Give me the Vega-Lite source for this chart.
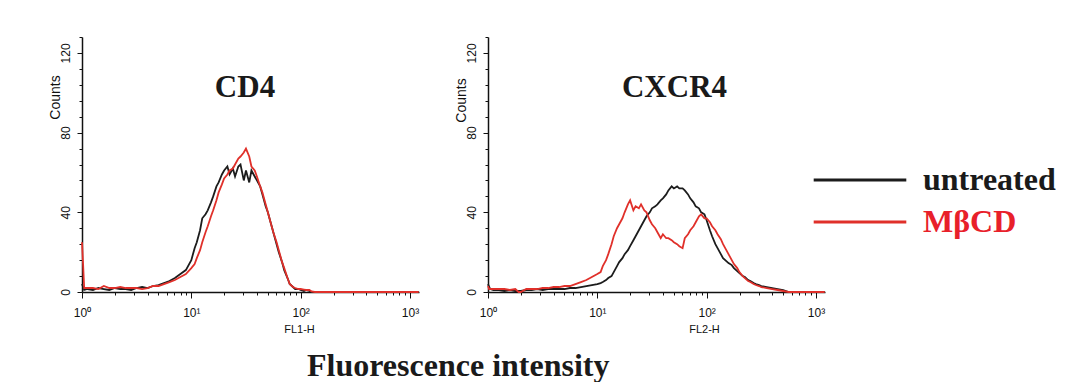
{
  "$schema": "https://vega.github.io/schema/vega-lite/v6.json",
  "background": "white",
  "padding": {"left": 48, "top": 36, "right": 0, "bottom": 0},
  "bounds": "flush",
  "spacing": 69,
  "config": {"view": {"stroke": null}, "font": "Liberation Sans"},
  "title": {"text": "Fluorescence intensity", "orient": "bottom", "font": "Liberation Serif", "fontSize": 32, "fontWeight": "bold", "color": "#1a1a1a", "anchor": "start", "frame": "group", "dx": 225, "offset": 17},
  "resolve": {"scale": {"color": "shared"}, "legend": {"color": "shared"}},
  "datasets": {
    "hist": [
      {"panel":"CD4","series":"untreated","fl":1,"count":4},{"panel":"CD4","series":"untreated","fl":1.047,"count":1},{"panel":"CD4","series":"untreated","fl":1.122,"count":1.5},{"panel":"CD4","series":"untreated","fl":1.259,"count":1},{"panel":"CD4","series":"untreated","fl":1.413,"count":2},{"panel":"CD4","series":"untreated","fl":1.585,"count":1.5},{"panel":"CD4","series":"untreated","fl":1.778,"count":1},{"panel":"CD4","series":"untreated","fl":1.995,"count":2},{"panel":"CD4","series":"untreated","fl":2.239,"count":1.5},{"panel":"CD4","series":"untreated","fl":2.512,"count":1.5},{"panel":"CD4","series":"untreated","fl":2.818,"count":1},{"panel":"CD4","series":"untreated","fl":3.162,"count":2},{"panel":"CD4","series":"untreated","fl":3.548,"count":2.5},{"panel":"CD4","series":"untreated","fl":3.981,"count":2},{"panel":"CD4","series":"untreated","fl":4.467,"count":3},{"panel":"CD4","series":"untreated","fl":5.012,"count":3.5},{"panel":"CD4","series":"untreated","fl":5.623,"count":4.5},{"panel":"CD4","series":"untreated","fl":6.31,"count":5.5},{"panel":"CD4","series":"untreated","fl":7.079,"count":7},{"panel":"CD4","series":"untreated","fl":7.943,"count":9},{"panel":"CD4","series":"untreated","fl":8.913,"count":11},{"panel":"CD4","series":"untreated","fl":10,"count":16},{"panel":"CD4","series":"untreated","fl":10.72,"count":22},{"panel":"CD4","series":"untreated","fl":11.22,"count":25},{"panel":"CD4","series":"untreated","fl":12.02,"count":31},{"panel":"CD4","series":"untreated","fl":12.59,"count":37},{"panel":"CD4","series":"untreated","fl":13.49,"count":39},{"panel":"CD4","series":"untreated","fl":14.13,"count":41},{"panel":"CD4","series":"untreated","fl":15.14,"count":45},{"panel":"CD4","series":"untreated","fl":15.85,"count":48},{"panel":"CD4","series":"untreated","fl":16.98,"count":53},{"panel":"CD4","series":"untreated","fl":17.78,"count":55},{"panel":"CD4","series":"untreated","fl":19.05,"count":59},{"panel":"CD4","series":"untreated","fl":19.95,"count":61},{"panel":"CD4","series":"untreated","fl":21.38,"count":63},{"panel":"CD4","series":"untreated","fl":22.39,"count":59},{"panel":"CD4","series":"untreated","fl":23.99,"count":62},{"panel":"CD4","series":"untreated","fl":25.12,"count":58},{"panel":"CD4","series":"untreated","fl":26.92,"count":63},{"panel":"CD4","series":"untreated","fl":28.18,"count":64},{"panel":"CD4","series":"untreated","fl":30.2,"count":56},{"panel":"CD4","series":"untreated","fl":31.62,"count":61},{"panel":"CD4","series":"untreated","fl":33.88,"count":55},{"panel":"CD4","series":"untreated","fl":35.48,"count":61},{"panel":"CD4","series":"untreated","fl":38.02,"count":58},{"panel":"CD4","series":"untreated","fl":39.81,"count":56},{"panel":"CD4","series":"untreated","fl":42.66,"count":53},{"panel":"CD4","series":"untreated","fl":44.67,"count":49},{"panel":"CD4","series":"untreated","fl":47.86,"count":43},{"panel":"CD4","series":"untreated","fl":50.12,"count":40},{"panel":"CD4","series":"untreated","fl":53.7,"count":34},{"panel":"CD4","series":"untreated","fl":56.23,"count":30},{"panel":"CD4","series":"untreated","fl":60.26,"count":24},{"panel":"CD4","series":"untreated","fl":63.1,"count":20},{"panel":"CD4","series":"untreated","fl":67.61,"count":15},{"panel":"CD4","series":"untreated","fl":70.79,"count":11},{"panel":"CD4","series":"untreated","fl":75.86,"count":7},{"panel":"CD4","series":"untreated","fl":79.43,"count":4},{"panel":"CD4","series":"untreated","fl":85.11,"count":2.5},{"panel":"CD4","series":"untreated","fl":89.13,"count":1.5},{"panel":"CD4","series":"untreated","fl":95.5,"count":1.5},{"panel":"CD4","series":"untreated","fl":100,"count":1},{"panel":"CD4","series":"untreated","fl":107.2,"count":0.5},{"panel":"CD4","series":"untreated","fl":112.2,"count":1},{"panel":"CD4","series":"untreated","fl":120.2,"count":0.5},{"panel":"CD4","series":"untreated","fl":125.9,"count":0},{"panel":"CD4","series":"untreated","fl":158.5,"count":0},{"panel":"CD4","series":"untreated","fl":1000,"count":0},{"panel":"CD4","series":"untreated","fl":1202,"count":0},

      {"panel":"CD4","series":"MβCD","fl":1,"count":25},{"panel":"CD4","series":"MβCD","fl":1.023,"count":14},{"panel":"CD4","series":"MβCD","fl":1.047,"count":2},{"panel":"CD4","series":"MβCD","fl":1.122,"count":2},{"panel":"CD4","series":"MβCD","fl":1.259,"count":2},{"panel":"CD4","series":"MβCD","fl":1.413,"count":1.5},{"panel":"CD4","series":"MβCD","fl":1.585,"count":3},{"panel":"CD4","series":"MβCD","fl":1.778,"count":2},{"panel":"CD4","series":"MβCD","fl":1.995,"count":2},{"panel":"CD4","series":"MβCD","fl":2.239,"count":2.5},{"panel":"CD4","series":"MβCD","fl":2.512,"count":2},{"panel":"CD4","series":"MβCD","fl":2.818,"count":2},{"panel":"CD4","series":"MβCD","fl":3.162,"count":2},{"panel":"CD4","series":"MβCD","fl":3.548,"count":1.5},{"panel":"CD4","series":"MβCD","fl":3.981,"count":2},{"panel":"CD4","series":"MβCD","fl":4.467,"count":3},{"panel":"CD4","series":"MβCD","fl":5.012,"count":3},{"panel":"CD4","series":"MβCD","fl":5.623,"count":4},{"panel":"CD4","series":"MβCD","fl":6.31,"count":5},{"panel":"CD4","series":"MβCD","fl":7.079,"count":6},{"panel":"CD4","series":"MβCD","fl":7.943,"count":7.5},{"panel":"CD4","series":"MβCD","fl":8.913,"count":9},{"panel":"CD4","series":"MβCD","fl":10,"count":12},{"panel":"CD4","series":"MβCD","fl":10.72,"count":14},{"panel":"CD4","series":"MβCD","fl":11.22,"count":17},{"panel":"CD4","series":"MβCD","fl":12.02,"count":21},{"panel":"CD4","series":"MβCD","fl":12.59,"count":25},{"panel":"CD4","series":"MβCD","fl":13.49,"count":30},{"panel":"CD4","series":"MβCD","fl":14.13,"count":33},{"panel":"CD4","series":"MβCD","fl":15.14,"count":38},{"panel":"CD4","series":"MβCD","fl":15.85,"count":41},{"panel":"CD4","series":"MβCD","fl":16.98,"count":46},{"panel":"CD4","series":"MβCD","fl":17.78,"count":50},{"panel":"CD4","series":"MβCD","fl":19.05,"count":54},{"panel":"CD4","series":"MβCD","fl":19.95,"count":57},{"panel":"CD4","series":"MβCD","fl":21.38,"count":59},{"panel":"CD4","series":"MβCD","fl":22.39,"count":61},{"panel":"CD4","series":"MβCD","fl":23.99,"count":62},{"panel":"CD4","series":"MβCD","fl":25.12,"count":64},{"panel":"CD4","series":"MβCD","fl":26.92,"count":67},{"panel":"CD4","series":"MβCD","fl":28.18,"count":68},{"panel":"CD4","series":"MβCD","fl":30.2,"count":70},{"panel":"CD4","series":"MβCD","fl":31.62,"count":72},{"panel":"CD4","series":"MβCD","fl":33.88,"count":68},{"panel":"CD4","series":"MβCD","fl":35.48,"count":63},{"panel":"CD4","series":"MβCD","fl":38.02,"count":61},{"panel":"CD4","series":"MβCD","fl":39.81,"count":58},{"panel":"CD4","series":"MβCD","fl":42.66,"count":53},{"panel":"CD4","series":"MβCD","fl":44.67,"count":50},{"panel":"CD4","series":"MβCD","fl":47.86,"count":44},{"panel":"CD4","series":"MβCD","fl":50.12,"count":40},{"panel":"CD4","series":"MβCD","fl":53.7,"count":34},{"panel":"CD4","series":"MβCD","fl":56.23,"count":30},{"panel":"CD4","series":"MβCD","fl":60.26,"count":25},{"panel":"CD4","series":"MβCD","fl":63.1,"count":21},{"panel":"CD4","series":"MβCD","fl":67.61,"count":15},{"panel":"CD4","series":"MβCD","fl":70.79,"count":12},{"panel":"CD4","series":"MβCD","fl":75.86,"count":7},{"panel":"CD4","series":"MβCD","fl":79.43,"count":4},{"panel":"CD4","series":"MβCD","fl":85.11,"count":2.5},{"panel":"CD4","series":"MβCD","fl":89.13,"count":2},{"panel":"CD4","series":"MβCD","fl":95.5,"count":1.5},{"panel":"CD4","series":"MβCD","fl":100,"count":1.5},{"panel":"CD4","series":"MβCD","fl":107.2,"count":1.2},{"panel":"CD4","series":"MβCD","fl":112.2,"count":1},{"panel":"CD4","series":"MβCD","fl":120.2,"count":1},{"panel":"CD4","series":"MβCD","fl":125.9,"count":0.3},{"panel":"CD4","series":"MβCD","fl":134.9,"count":0},{"panel":"CD4","series":"MβCD","fl":1000,"count":0},{"panel":"CD4","series":"MβCD","fl":1202,"count":0},

      {"panel":"CXCR4","series":"untreated","fl":1,"count":4},{"panel":"CXCR4","series":"untreated","fl":1.047,"count":1.5},{"panel":"CXCR4","series":"untreated","fl":1.122,"count":1},{"panel":"CXCR4","series":"untreated","fl":1.259,"count":1},{"panel":"CXCR4","series":"untreated","fl":1.413,"count":0.5},{"panel":"CXCR4","series":"untreated","fl":1.585,"count":1},{"panel":"CXCR4","series":"untreated","fl":1.778,"count":0.5},{"panel":"CXCR4","series":"untreated","fl":1.995,"count":0.5},{"panel":"CXCR4","series":"untreated","fl":2.239,"count":1},{"panel":"CXCR4","series":"untreated","fl":2.512,"count":1},{"panel":"CXCR4","series":"untreated","fl":2.818,"count":1.5},{"panel":"CXCR4","series":"untreated","fl":3.162,"count":1},{"panel":"CXCR4","series":"untreated","fl":3.548,"count":1.5},{"panel":"CXCR4","series":"untreated","fl":3.981,"count":1.5},{"panel":"CXCR4","series":"untreated","fl":4.467,"count":1.5},{"panel":"CXCR4","series":"untreated","fl":5.012,"count":1.5},{"panel":"CXCR4","series":"untreated","fl":5.623,"count":2},{"panel":"CXCR4","series":"untreated","fl":6.31,"count":2},{"panel":"CXCR4","series":"untreated","fl":7.079,"count":2.5},{"panel":"CXCR4","series":"untreated","fl":7.943,"count":3},{"panel":"CXCR4","series":"untreated","fl":8.913,"count":3.5},{"panel":"CXCR4","series":"untreated","fl":10,"count":4},{"panel":"CXCR4","series":"untreated","fl":10.72,"count":4.5},{"panel":"CXCR4","series":"untreated","fl":11.22,"count":5},{"panel":"CXCR4","series":"untreated","fl":12.02,"count":6},{"panel":"CXCR4","series":"untreated","fl":12.59,"count":7},{"panel":"CXCR4","series":"untreated","fl":13.49,"count":8},{"panel":"CXCR4","series":"untreated","fl":14.13,"count":10},{"panel":"CXCR4","series":"untreated","fl":15.14,"count":13},{"panel":"CXCR4","series":"untreated","fl":15.85,"count":15},{"panel":"CXCR4","series":"untreated","fl":16.98,"count":17},{"panel":"CXCR4","series":"untreated","fl":17.78,"count":19},{"panel":"CXCR4","series":"untreated","fl":19.05,"count":21},{"panel":"CXCR4","series":"untreated","fl":19.95,"count":23},{"panel":"CXCR4","series":"untreated","fl":21.38,"count":26},{"panel":"CXCR4","series":"untreated","fl":22.39,"count":28},{"panel":"CXCR4","series":"untreated","fl":23.99,"count":31},{"panel":"CXCR4","series":"untreated","fl":25.12,"count":33},{"panel":"CXCR4","series":"untreated","fl":26.92,"count":36},{"panel":"CXCR4","series":"untreated","fl":28.18,"count":38},{"panel":"CXCR4","series":"untreated","fl":30.2,"count":40},{"panel":"CXCR4","series":"untreated","fl":31.62,"count":42},{"panel":"CXCR4","series":"untreated","fl":33.88,"count":43},{"panel":"CXCR4","series":"untreated","fl":35.48,"count":44},{"panel":"CXCR4","series":"untreated","fl":38.02,"count":46},{"panel":"CXCR4","series":"untreated","fl":39.81,"count":47},{"panel":"CXCR4","series":"untreated","fl":42.66,"count":49},{"panel":"CXCR4","series":"untreated","fl":44.67,"count":51},{"panel":"CXCR4","series":"untreated","fl":47.86,"count":53},{"panel":"CXCR4","series":"untreated","fl":50.12,"count":52},{"panel":"CXCR4","series":"untreated","fl":53.7,"count":53},{"panel":"CXCR4","series":"untreated","fl":56.23,"count":52},{"panel":"CXCR4","series":"untreated","fl":60.26,"count":52},{"panel":"CXCR4","series":"untreated","fl":63.1,"count":51},{"panel":"CXCR4","series":"untreated","fl":67.61,"count":49},{"panel":"CXCR4","series":"untreated","fl":70.79,"count":47},{"panel":"CXCR4","series":"untreated","fl":75.86,"count":45},{"panel":"CXCR4","series":"untreated","fl":79.43,"count":43},{"panel":"CXCR4","series":"untreated","fl":85.11,"count":42},{"panel":"CXCR4","series":"untreated","fl":89.13,"count":40},{"panel":"CXCR4","series":"untreated","fl":95.5,"count":39},{"panel":"CXCR4","series":"untreated","fl":100,"count":36},{"panel":"CXCR4","series":"untreated","fl":107.2,"count":31},{"panel":"CXCR4","series":"untreated","fl":112.2,"count":28},{"panel":"CXCR4","series":"untreated","fl":120.2,"count":24},{"panel":"CXCR4","series":"untreated","fl":125.9,"count":22},{"panel":"CXCR4","series":"untreated","fl":134.9,"count":19},{"panel":"CXCR4","series":"untreated","fl":141.3,"count":17},{"panel":"CXCR4","series":"untreated","fl":151.4,"count":15.5},{"panel":"CXCR4","series":"untreated","fl":158.5,"count":14.5},{"panel":"CXCR4","series":"untreated","fl":169.8,"count":13.5},{"panel":"CXCR4","series":"untreated","fl":177.8,"count":12},{"panel":"CXCR4","series":"untreated","fl":190.5,"count":10.5},{"panel":"CXCR4","series":"untreated","fl":199.5,"count":9.5},{"panel":"CXCR4","series":"untreated","fl":213.8,"count":8},{"panel":"CXCR4","series":"untreated","fl":223.9,"count":7.5},{"panel":"CXCR4","series":"untreated","fl":239.9,"count":6},{"panel":"CXCR4","series":"untreated","fl":251.2,"count":5.5},{"panel":"CXCR4","series":"untreated","fl":269.2,"count":4.5},{"panel":"CXCR4","series":"untreated","fl":281.8,"count":4},{"panel":"CXCR4","series":"untreated","fl":302,"count":3.5},{"panel":"CXCR4","series":"untreated","fl":316.2,"count":3},{"panel":"CXCR4","series":"untreated","fl":354.8,"count":2.5},{"panel":"CXCR4","series":"untreated","fl":398.1,"count":2},{"panel":"CXCR4","series":"untreated","fl":446.7,"count":1.5},{"panel":"CXCR4","series":"untreated","fl":501.2,"count":1},{"panel":"CXCR4","series":"untreated","fl":562.3,"count":0},{"panel":"CXCR4","series":"untreated","fl":1000,"count":0},{"panel":"CXCR4","series":"untreated","fl":1202,"count":0},

      {"panel":"CXCR4","series":"MβCD","fl":1,"count":3},{"panel":"CXCR4","series":"MβCD","fl":1.023,"count":1.5},{"panel":"CXCR4","series":"MβCD","fl":1.122,"count":1.5},{"panel":"CXCR4","series":"MβCD","fl":1.259,"count":1.5},{"panel":"CXCR4","series":"MβCD","fl":1.413,"count":1.5},{"panel":"CXCR4","series":"MβCD","fl":1.585,"count":1},{"panel":"CXCR4","series":"MβCD","fl":1.778,"count":1.5},{"panel":"CXCR4","series":"MβCD","fl":1.905,"count":0},{"panel":"CXCR4","series":"MβCD","fl":1.995,"count":0},{"panel":"CXCR4","series":"MβCD","fl":2.239,"count":1.5},{"panel":"CXCR4","series":"MβCD","fl":2.512,"count":1.5},{"panel":"CXCR4","series":"MβCD","fl":2.818,"count":1.5},{"panel":"CXCR4","series":"MβCD","fl":3.162,"count":2},{"panel":"CXCR4","series":"MβCD","fl":3.548,"count":2},{"panel":"CXCR4","series":"MβCD","fl":3.981,"count":2.5},{"panel":"CXCR4","series":"MβCD","fl":4.467,"count":2.5},{"panel":"CXCR4","series":"MβCD","fl":5.012,"count":3},{"panel":"CXCR4","series":"MβCD","fl":5.623,"count":3},{"panel":"CXCR4","series":"MβCD","fl":6.31,"count":4},{"panel":"CXCR4","series":"MβCD","fl":7.079,"count":5},{"panel":"CXCR4","series":"MβCD","fl":7.943,"count":6},{"panel":"CXCR4","series":"MβCD","fl":8.913,"count":7.5},{"panel":"CXCR4","series":"MβCD","fl":10,"count":9},{"panel":"CXCR4","series":"MβCD","fl":10.72,"count":10},{"panel":"CXCR4","series":"MβCD","fl":11.22,"count":13},{"panel":"CXCR4","series":"MβCD","fl":12.02,"count":16},{"panel":"CXCR4","series":"MβCD","fl":12.59,"count":19},{"panel":"CXCR4","series":"MβCD","fl":13.49,"count":24},{"panel":"CXCR4","series":"MβCD","fl":14.13,"count":28},{"panel":"CXCR4","series":"MβCD","fl":15.14,"count":32},{"panel":"CXCR4","series":"MβCD","fl":15.85,"count":34},{"panel":"CXCR4","series":"MβCD","fl":16.98,"count":37},{"panel":"CXCR4","series":"MβCD","fl":17.78,"count":40},{"panel":"CXCR4","series":"MβCD","fl":19.05,"count":44},{"panel":"CXCR4","series":"MβCD","fl":19.95,"count":46},{"panel":"CXCR4","series":"MβCD","fl":21.38,"count":41},{"panel":"CXCR4","series":"MβCD","fl":22.39,"count":43},{"panel":"CXCR4","series":"MβCD","fl":23.99,"count":42},{"panel":"CXCR4","series":"MβCD","fl":25.12,"count":44},{"panel":"CXCR4","series":"MβCD","fl":26.92,"count":41},{"panel":"CXCR4","series":"MβCD","fl":28.18,"count":40},{"panel":"CXCR4","series":"MβCD","fl":30.2,"count":36},{"panel":"CXCR4","series":"MβCD","fl":31.62,"count":34},{"panel":"CXCR4","series":"MβCD","fl":33.88,"count":32},{"panel":"CXCR4","series":"MβCD","fl":35.48,"count":30},{"panel":"CXCR4","series":"MβCD","fl":38.02,"count":27},{"panel":"CXCR4","series":"MβCD","fl":39.81,"count":29},{"panel":"CXCR4","series":"MβCD","fl":42.66,"count":27},{"panel":"CXCR4","series":"MβCD","fl":44.67,"count":27},{"panel":"CXCR4","series":"MβCD","fl":47.86,"count":26},{"panel":"CXCR4","series":"MβCD","fl":50.12,"count":25},{"panel":"CXCR4","series":"MβCD","fl":53.7,"count":24},{"panel":"CXCR4","series":"MβCD","fl":56.23,"count":23},{"panel":"CXCR4","series":"MβCD","fl":60.26,"count":22},{"panel":"CXCR4","series":"MβCD","fl":63.1,"count":27},{"panel":"CXCR4","series":"MβCD","fl":67.61,"count":29},{"panel":"CXCR4","series":"MβCD","fl":70.79,"count":31},{"panel":"CXCR4","series":"MβCD","fl":75.86,"count":33},{"panel":"CXCR4","series":"MβCD","fl":79.43,"count":35},{"panel":"CXCR4","series":"MβCD","fl":85.11,"count":38},{"panel":"CXCR4","series":"MβCD","fl":89.13,"count":39},{"panel":"CXCR4","series":"MβCD","fl":95.5,"count":37},{"panel":"CXCR4","series":"MβCD","fl":100,"count":37},{"panel":"CXCR4","series":"MβCD","fl":107.2,"count":35},{"panel":"CXCR4","series":"MβCD","fl":112.2,"count":33},{"panel":"CXCR4","series":"MβCD","fl":120.2,"count":31},{"panel":"CXCR4","series":"MβCD","fl":125.9,"count":29},{"panel":"CXCR4","series":"MβCD","fl":134.9,"count":26.5},{"panel":"CXCR4","series":"MβCD","fl":141.3,"count":24},{"panel":"CXCR4","series":"MβCD","fl":151.4,"count":21},{"panel":"CXCR4","series":"MβCD","fl":158.5,"count":19},{"panel":"CXCR4","series":"MβCD","fl":169.8,"count":16},{"panel":"CXCR4","series":"MβCD","fl":177.8,"count":14},{"panel":"CXCR4","series":"MβCD","fl":190.5,"count":12},{"panel":"CXCR4","series":"MβCD","fl":199.5,"count":10},{"panel":"CXCR4","series":"MβCD","fl":213.8,"count":8},{"panel":"CXCR4","series":"MβCD","fl":223.9,"count":7},{"panel":"CXCR4","series":"MβCD","fl":239.9,"count":5.5},{"panel":"CXCR4","series":"MβCD","fl":251.2,"count":5},{"panel":"CXCR4","series":"MβCD","fl":269.2,"count":4},{"panel":"CXCR4","series":"MβCD","fl":281.8,"count":3.5},{"panel":"CXCR4","series":"MβCD","fl":302,"count":3},{"panel":"CXCR4","series":"MβCD","fl":316.2,"count":2.5},{"panel":"CXCR4","series":"MβCD","fl":354.8,"count":2},{"panel":"CXCR4","series":"MβCD","fl":398.1,"count":1.5},{"panel":"CXCR4","series":"MβCD","fl":446.7,"count":1},{"panel":"CXCR4","series":"MβCD","fl":501.2,"count":0.5},{"panel":"CXCR4","series":"MβCD","fl":562.3,"count":0},{"panel":"CXCR4","series":"MβCD","fl":1000,"count":0},{"panel":"CXCR4","series":"MβCD","fl":1202,"count":0}
    ]
  },
  "data": {"name": "hist"},
  "hconcat": [
    {
      "width": 337, "height": 255,
      "title": {"text": "CD4", "font": "Liberation Serif", "fontSize": 31, "fontWeight": "bold", "color": "#1a1a1a", "anchor": "middle", "frame": "group", "baseline": "alphabetic", "offset": -91, "dx": -5.5},
      "transform": [{"filter": "datum.panel == 'CD4'"}],
      "encoding": {
        "x": {"field": "fl", "type": "quantitative", "scale": {"type": "log", "domain": [1, 1210], "nice": false},
          "axis": {"title": "FL1-H", "values": [1,2,3,4,5,6,7,8,9,10,20,30,40,50,60,70,80,90,100,200,300,400,500,600,700,800,900,1000],
            "labelExpr": "datum.value == 1 ? '10⁰' : datum.value == 10 ? '10¹' : datum.value == 100 ? '10²' : datum.value == 1000 ? '10³' : ''",
            "tickSize": {"condition": {"test": "datum.value == 1 || datum.value == 10 || datum.value == 100 || datum.value == 1000", "value": 6}, "value": 3},
            "labelPadding": 9, "labelFontSize": 12, "labelOverlap": false, "labelFlush": false, "grid": false,
            "titleFontSize": 11, "titleFontWeight": "normal", "titleX": 217, "titlePadding": 5,
            "domainColor": "#111111", "domainWidth": 1.5, "tickColor": "#111111", "labelColor": "#111111", "titleColor": "#111111"}},
        "y": {"field": "count", "type": "quantitative", "scale": {"domain": [0, 128], "nice": false},
          "axis": {"title": "Counts", "values": [0,8,16,24,32,40,48,56,64,72,80,88,96,104,112,120,128],
            "labelExpr": "datum.value % 40 == 0 ? datum.label : ''",
            "tickSize": {"condition": {"test": "datum.value % 40 == 0", "value": 5}, "value": 3},
            "labelAngle": -90, "labelAlign": "center", "labelBaseline": "bottom", "labelPadding": 5, "labelFontSize": 12, "labelOverlap": false, "grid": false,
            "titleFontSize": 14, "titleFontWeight": "normal", "titleX": -27, "titleY": 60, "titleAngle": -90, "titleAlign": "center", "titleBaseline": "middle",
            "domainColor": "#111111", "domainWidth": 1.5, "tickColor": "#111111", "labelColor": "#111111", "titleColor": "#111111"}},
        "color": {"field": "series", "type": "nominal", "scale": {"domain": ["untreated", "MβCD"], "range": ["#1c1c1c", "#e0302a"]},
          "legend": {"title": null, "orient": "none", "legendX": 762, "legendY": 127, "symbolType": "M-8,0H8", "symbolSize": 134, "symbolStrokeWidth": 3,
            "labelFont": "Liberation Serif", "labelFontSize": 32, "labelFontWeight": "bold", "labelLimit": 400,
            "labelColor": {"expr": "datum.value == 'MβCD' ? '#e8202a' : '#1a1a1a'"}, "labelOffset": 47, "rowPadding": 10}}
      },
      "layer": [
        {"transform": [{"filter": "datum.series == 'untreated'"}], "mark": {"type": "line", "strokeWidth": 1.8}},
        {"transform": [{"filter": "datum.series == 'MβCD'"}], "mark": {"type": "line", "strokeWidth": 1.8}}
      ]
    },
    {
      "width": 337, "height": 255,
      "title": {"text": "CXCR4", "font": "Liberation Serif", "fontSize": 31, "fontWeight": "bold", "color": "#1a1a1a", "anchor": "middle", "frame": "group", "baseline": "alphabetic", "offset": -91, "dx": 18},
      "transform": [{"filter": "datum.panel == 'CXCR4'"}],
      "encoding": {
        "x": {"field": "fl", "type": "quantitative", "scale": {"type": "log", "domain": [1, 1210], "nice": false},
          "axis": {"title": "FL2-H", "values": [1,2,3,4,5,6,7,8,9,10,20,30,40,50,60,70,80,90,100,200,300,400,500,600,700,800,900,1000],
            "labelExpr": "datum.value == 1 ? '10⁰' : datum.value == 10 ? '10¹' : datum.value == 100 ? '10²' : datum.value == 1000 ? '10³' : ''",
            "tickSize": {"condition": {"test": "datum.value == 1 || datum.value == 10 || datum.value == 100 || datum.value == 1000", "value": 6}, "value": 3},
            "labelPadding": 9, "labelFontSize": 12, "labelOverlap": false, "labelFlush": false, "grid": false,
            "titleFontSize": 11, "titleFontWeight": "normal", "titleX": 216, "titlePadding": 5,
            "domainColor": "#111111", "domainWidth": 1.5, "tickColor": "#111111", "labelColor": "#111111", "titleColor": "#111111"}},
        "y": {"field": "count", "type": "quantitative", "scale": {"domain": [0, 128], "nice": false},
          "axis": {"title": "Counts", "values": [0,8,16,24,32,40,48,56,64,72,80,88,96,104,112,120,128],
            "labelExpr": "datum.value % 40 == 0 ? datum.label : ''",
            "tickSize": {"condition": {"test": "datum.value % 40 == 0", "value": 5}, "value": 3},
            "labelAngle": -90, "labelAlign": "center", "labelBaseline": "bottom", "labelPadding": 5, "labelFontSize": 12, "labelOverlap": false, "grid": false,
            "titleFontSize": 14, "titleFontWeight": "normal", "titleX": -27, "titleY": 63, "titleAngle": -90, "titleAlign": "center", "titleBaseline": "middle",
            "domainColor": "#111111", "domainWidth": 1.5, "tickColor": "#111111", "labelColor": "#111111", "titleColor": "#111111"}},
        "color": {"field": "series", "type": "nominal", "scale": {"domain": ["untreated", "MβCD"], "range": ["#1c1c1c", "#e0302a"]},
          "legend": {"title": null, "orient": "none", "legendX": 762, "legendY": 127, "symbolType": "M-8,0H8", "symbolSize": 134, "symbolStrokeWidth": 3,
            "labelFont": "Liberation Serif", "labelFontSize": 32, "labelFontWeight": "bold", "labelLimit": 400,
            "labelColor": {"expr": "datum.value == 'MβCD' ? '#e8202a' : '#1a1a1a'"}, "labelOffset": 47, "rowPadding": 10}}
      },
      "layer": [
        {"transform": [{"filter": "datum.series == 'untreated'"}], "mark": {"type": "line", "strokeWidth": 1.8}},
        {"transform": [{"filter": "datum.series == 'MβCD'"}], "mark": {"type": "line", "strokeWidth": 1.8}}
      ]
    }
  ]
}
